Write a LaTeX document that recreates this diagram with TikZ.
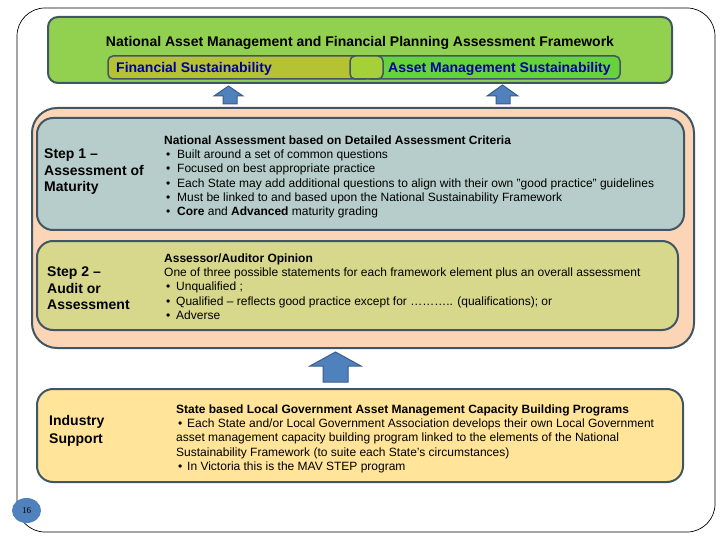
\documentclass[tikz,border=0pt]{standalone}
\usepackage{fontspec}
\setmainfont{Liberation Sans}
\newfontfamily\pagefont{Liberation Serif}
\usetikzlibrary{calc,shapes.geometric}
\definecolor{slate}{RGB}{64,86,100}
\definecolor{topgreen}{RGB}{146,208,80}
\definecolor{olivebar}{RGB}{181,194,52}
\definecolor{midbar}{RGB}{166,208,58}
\definecolor{brightbar}{RGB}{102,210,60}
\definecolor{navytext}{RGB}{0,0,160}
\definecolor{peach}{RGB}{251,213,181}
\definecolor{stepone}{RGB}{183,205,203}
\definecolor{steptwo}{RGB}{215,216,140}
\definecolor{industry}{RGB}{255,228,153}
\definecolor{arrowfill}{RGB}{79,129,189}
\definecolor{arrowline}{RGB}{56,93,138}
\newcommand{\bul}[1]{\makebox[#1][l]{\textbullet}}
\tikzset{
  panel/.style={draw=slate, line width=2pt, rounded corners=#1},
  bodytext/.style={anchor=north west, inner sep=0pt, align=left, font=\fontsize{12}{14.3}\selectfont},
  labeltext/.style={anchor=north west, inner sep=0pt, align=left, font=\bfseries\fontsize{14}{16.5}\selectfont},
  uparrow/.style={fill=arrowfill, draw=arrowline, line width=1pt, line join=miter}
}
\begin{document}
\begin{tikzpicture}[x=1pt,y=-1pt]
\useasboundingbox (0,0) rectangle (720,540);
\fill[white] (0,0) rectangle (720,540);
% outer frame
\draw[black, line width=0.7pt, rounded corners=28] (17,8) rectangle (715,532);
% top green panel
\draw[panel=10, fill=topgreen] (48,17) rectangle (672,83);
\node[anchor=base, inner sep=0pt, font=\bfseries\fontsize{14}{16}\selectfont] (title) at (360,47)
  {National Asset Management and Financial Planning Assessment Framework};
% bar
\draw[draw=slate, line width=1.5pt, rounded corners=5, fill=olivebar] (108,56) rectangle (370,79);
\draw[draw=slate, line width=1.5pt, rounded corners=5, fill=brightbar] (365,56) rectangle (620,79);
\draw[draw=slate, line width=1.5pt, rounded corners=5, fill=midbar] (350,56) rectangle (383,79);
\node[anchor=base west, inner sep=0pt, text=navytext, font=\bfseries\fontsize{14}{16}\selectfont] (fin) at (116,73) {Financial Sustainability};
\node[anchor=base west, inner sep=0pt, text=navytext, font=\bfseries\fontsize{14}{16}\selectfont] (ams) at (388,73) {Asset Management Sustainability};
% arrows top
\draw[uparrow] (223,104) -- (223,96) -- (214,96) -- (228.5,86) -- (243,96) -- (237,96) -- (237,104) -- cycle;
\draw[uparrow] (496,104) -- (496,96) -- (487,96) -- (502.5,85) -- (518,96) -- (510,96) -- (510,104) -- cycle;
% peach container
\draw[panel=25, fill=peach] (32,108) rectangle (694,348);
% step 1
\draw[panel=16, fill=stepone] (37,118) rectangle (684,230);
\node[labeltext] (s1l) at (44,149) {Step 1 --\\Assessment of\\Maturity};
\node[bodytext] (s1b) at (164,135.5) {\textbf{National Assessment based on Detailed Assessment Criteria}\\
\hspace*{2pt}\bul{11pt}Built around a set of common questions\\
\hspace*{2pt}\bul{11pt}Focused on best appropriate practice\\
\hspace*{2pt}\bul{11pt}Each State may add additional questions to align with their own "good practice" guidelines\\
\hspace*{2pt}\bul{11pt}Must be linked to and based upon the National Sustainability Framework\\
\hspace*{2pt}\bul{11pt}\textbf{Core} and \textbf{Advanced} maturity grading};
% step 2
\draw[panel=16, fill=steptwo] (37,241) rectangle (678,330);
\node[labeltext] (s2l) at (47,267) {Step 2 --\\Audit or\\Assessment};
\node[bodytext, font=\fontsize{12}{14.25}\selectfont] (s2b) at (164,253.5) {\textbf{Assessor/Auditor Opinion}\\
One of three possible statements for each framework element plus an overall assessment\\
\hspace*{2pt}\bul{10pt}Unqualified ;\\
\hspace*{2pt}\bul{10pt}Qualified -- reflects good practice except for ……….. (qualifications); or\\
\hspace*{2pt}\bul{10pt}Adverse};
% bottom arrow
\draw[uparrow] (323,382) -- (323,366) -- (310,366) -- (335.5,352) -- (361,366) -- (348,366) -- (348,382) -- cycle;
% industry
\draw[panel=16, fill=industry] (37,389) rectangle (683,482);
\node[labeltext, font=\bfseries\fontsize{14}{18}\selectfont] (inl) at (49,415) {Industry\\Support};
\node[bodytext, font=\fontsize{12}{14.25}\selectfont] (inb) at (176,404.5) {\textbf{State based Local Government Asset Management Capacity Building Programs}\\
\hspace*{2pt}\bul{9pt}Each State and/or Local Government Association develops their own Local Government\\
asset management capacity building program linked to the elements of the National\\
Sustainability Framework (to suite each State's circumstances)\\
\hspace*{2pt}\bul{9pt}In Victoria this is the MAV STEP program};
% page number
\node[ellipse, fill=arrowfill, minimum width=29pt, minimum height=25pt, inner sep=0pt, font=\pagefont\fontsize{9}{10}\selectfont] (page) at (26.5,510.5) {16};
\end{tikzpicture}
\end{document}
